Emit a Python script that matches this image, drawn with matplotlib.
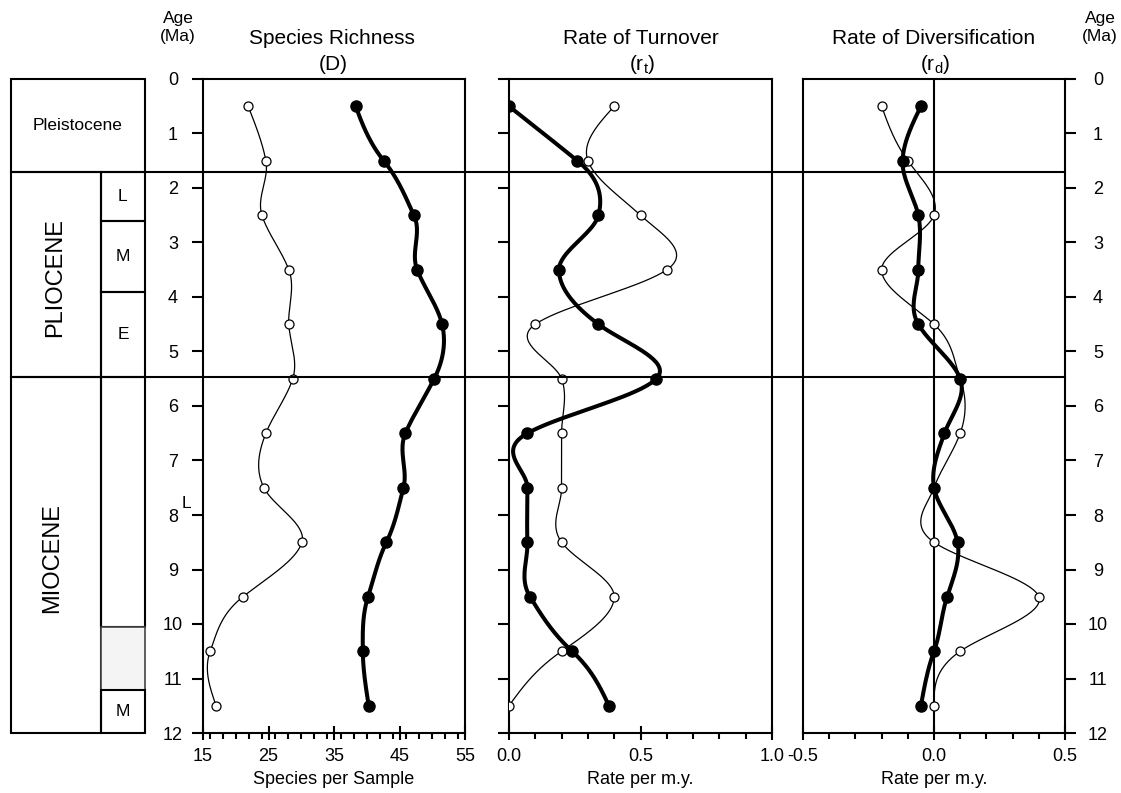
import numpy as np
import matplotlib
matplotlib.use('Agg')
import matplotlib.pyplot as plt
from matplotlib.patches import Rectangle
from matplotlib.lines import Line2D
from matplotlib.transforms import blended_transform_factory
from matplotlib.ticker import MultipleLocator

plt.rcParams['font.family'] = ['Liberation Sans', 'DejaVu Sans']
plt.rcParams['mathtext.fontset'] = 'custom'
plt.rcParams['mathtext.rm'] = 'Liberation Sans'
plt.rcParams['mathtext.it'] = 'Liberation Sans:italic'

# ---------------- data ----------------
ages = [0.5, 1.5, 2.5, 3.5, 4.5, 5.5, 6.5, 7.5, 8.5, 9.5, 10.5, 11.5]
richness_filled = [38.3, 42.6, 47.2, 47.7, 51.5, 50.3, 45.9, 45.6, 43.0, 40.2, 39.4, 40.3]
richness_open = [21.9, 24.6, 24.0, 28.1, 28.1, 28.7, 24.6, 24.3, 30.1, 21.1, 16.1, 17.0]
turnover_filled = [0.0, 0.26, 0.34, 0.19, 0.34, 0.56, 0.07, 0.07, 0.07, 0.08, 0.24, 0.38]
turnover_open = [0.40, 0.30, 0.50, 0.60, 0.10, 0.20, 0.20, 0.20, 0.20, 0.40, 0.20, 0.0]
divers_filled = [-0.05, -0.12, -0.06, -0.06, -0.06, 0.10, 0.04, 0.0, 0.09, 0.05, 0.0, -0.05]
divers_open = [-0.20, -0.10, 0.0, -0.20, 0.0, 0.10, 0.10, 0.0, 0.0, 0.40, 0.10, 0.0]

age_ticks = list(range(0, 13))
richness_ticks = [15, 25, 35, 45, 55]
turnover_ticks = [0.0, 0.5, 1.0]
turnover_labels = ['0.0', '0.5', '1.0']
divers_ticks = [-0.5, 0.0, 0.5]
divers_labels = ['-0.5', '0.0', '0.5']

titles = ['Species Richness', 'Rate of Turnover', 'Rate of Diversification']
subtitles = ['(D)', r'(r$_{\mathrm{t}}$)', r'(r$_{\mathrm{d}}$)']
xlabels = ['Species per Sample', 'Rate per m.y.', 'Rate per m.y.']

# stratigraphic column (Ma)
pleistocene_base = 1.7
pliocene_base = 5.47
plio_LM = 2.6
plio_ME = 3.9
mio_gray_top = 10.06
mio_gray_bot = 11.22

# ---------------- figure ----------------
W, H = 1121, 793
fig = plt.figure(figsize=(W / 100, H / 100), dpi=100)
TOP, BOT = 79, 733
FS_TICK = 13
FS_TITLE = 15


def box(l, r):
    return [l / W, 1 - BOT / H, (r - l) / W, (BOT - TOP) / H]


def smooth(y, x, k=0.75, n=40):
    y = np.asarray(y, float)
    x = np.asarray(x, float)
    m = np.zeros_like(x)
    m[1:-1] = k * (x[2:] - x[:-2])
    m[0] = (3 * (x[1] - x[0]) - m[1]) / 2
    m[-1] = (3 * (x[-1] - x[-2]) - m[-2]) / 2
    xs, ys = [], []
    t = np.linspace(0, 1, n)
    h00 = 2 * t**3 - 3 * t**2 + 1
    h10 = t**3 - 2 * t**2 + t
    h01 = -2 * t**3 + 3 * t**2
    h11 = t**3 - t**2
    for i in range(len(x) - 1):
        xs.append(h00 * x[i] + h10 * m[i] + h01 * x[i + 1] + h11 * m[i + 1])
        ys.append(y[i] + t * (y[i + 1] - y[i]))
    return np.concatenate(xs), np.concatenate(ys)


LW = 1.5
ax1 = fig.add_axes(box(203, 465))
ax2 = fig.add_axes(box(509, 772))
ax3 = fig.add_axes(box(803, 1065))
axes = [ax1, ax2, ax3]

series = [(richness_filled, richness_open), (turnover_filled, turnover_open),
          (divers_filled, divers_open)]
xlims = [(15, 55), (0, 1), (-0.5, 0.5)]
xticks = [richness_ticks, turnover_ticks, divers_ticks]
xticklabels = [[str(v) for v in richness_ticks], turnover_labels, divers_labels]
minors = [2, 0.1, 0.1]

for ax, (filled, opn), xl, xt, xtl, mn in zip(axes, series, xlims, xticks, xticklabels, minors):
    ax.set_xlim(*xl)
    ax.set_ylim(12, 0)
    for s in ax.spines.values():
        s.set_linewidth(LW)
    # open series
    sx, sy = smooth(ages, opn)
    ax.plot(sx, sy, color='black', lw=0.9, zorder=3, solid_capstyle='round')
    ax.plot(opn, ages, 'o', ms=6.5, mfc='white', mec='black', mew=0.9, zorder=4)
    # filled series
    sx, sy = smooth(ages, filled)
    ax.plot(sx, sy, color='black', lw=2.9, zorder=5, solid_capstyle='round')
    ax.plot(filled, ages, 'o', ms=8, mfc='black', mec='black', zorder=6)
    ax.set_xticks(xt)
    ax.set_xticklabels(xtl, fontsize=FS_TICK)
    ax.xaxis.set_minor_locator(MultipleLocator(mn))
    ax.tick_params(axis='x', which='major', direction='inout', length=10, width=LW, pad=6,
                   top=False, bottom=True)
    ax.tick_params(axis='x', which='minor', direction='out', length=4, width=LW,
                   top=False, bottom=True)
    ax.set_yticks(age_ticks)
    ax.tick_params(axis='y', which='major', direction='out', length=8, width=LW)

for ax, lab in zip(axes, xlabels):
    ax.set_xlabel(lab, fontsize=FS_TICK, labelpad=4)

# y tick labels
ax1.set_yticklabels([str(v) for v in age_ticks], fontsize=FS_TICK)
ax1.tick_params(axis='y', left=True, right=False, labelleft=True, pad=13.7)
plt.setp(ax1.get_yticklabels(), ha='center')
ax2.tick_params(axis='y', left=True, right=False, labelleft=False)
ax3.yaxis.tick_right()
ax3.set_yticklabels([str(v) for v in age_ticks], fontsize=FS_TICK)
ax3.tick_params(axis='y', left=False, right=True, labelright=True, pad=15.8)
plt.setp(ax3.get_yticklabels(), ha='center')
ax3.axvline(0, color='black', lw=LW, zorder=2)

# titles
centers = [332, 641, 934]
for c, t, st in zip(centers, titles, subtitles):
    fig.text(c / W, 1 - 39 / H, t, fontsize=FS_TITLE, ha='center', va='center')
    fig.text((c + 1) / W, 1 - 64 / H, st, fontsize=FS_TITLE, ha='center', va='center')
for xc in (178, 1100):
    fig.text(xc / W, 1 - 18 / H, 'Age', fontsize=12.5, ha='center', va='center')
    fig.text(xc / W, 1 - 36 / H, '(Ma)', fontsize=12.5, ha='center', va='center')

# stratigraphic column
axc = fig.add_axes(box(11, 145))
axc.set_xlim(0, 1)
axc.set_ylim(12, 0)
axc.axis('off')
div = 0.67
kw = dict(fill=False, ec='black', lw=LW, clip_on=False)
axc.add_patch(Rectangle((0, 0), 1, pleistocene_base, **kw))
axc.add_patch(Rectangle((0, pleistocene_base), div, pliocene_base - pleistocene_base, **kw))
axc.add_patch(Rectangle((div, pleistocene_base), 1 - div, plio_LM - pleistocene_base, **kw))
axc.add_patch(Rectangle((div, plio_LM), 1 - div, plio_ME - plio_LM, **kw))
axc.add_patch(Rectangle((div, plio_ME), 1 - div, pliocene_base - plio_ME, **kw))
axc.add_patch(Rectangle((0, pliocene_base), div, 12 - pliocene_base, **kw))
axc.add_patch(Rectangle((div, pliocene_base), 1 - div, mio_gray_top - pliocene_base, **kw))
axc.add_patch(Rectangle((div, mio_gray_top), 1 - div, mio_gray_bot - mio_gray_top,
                        fc='#f4f4f4', ec='#444444', lw=1.2, clip_on=False))
axc.add_patch(Rectangle((div, mio_gray_bot), 1 - div, 12 - mio_gray_bot, **kw))
axc.text(0.5, 0.85, 'Pleistocene', fontsize=12.5, ha='center', va='center')
axc.text(0.33, 3.64, 'PLIOCENE', fontsize=17, rotation=90, ha='center', va='center')
axc.text(0.31, 8.79, 'MIOCENE', fontsize=17, rotation=90, ha='center', va='center')
xm = div + (1 - div) / 2
axc.text(xm, (pleistocene_base + plio_LM) / 2, 'L', fontsize=12.5, ha='center', va='center')
axc.text(xm, (plio_LM + plio_ME) / 2, 'M', fontsize=12.5, ha='center', va='center')
axc.text(xm, (plio_ME + pliocene_base) / 2, 'E', fontsize=12.5, ha='center', va='center')
axc.text(xm, (mio_gray_bot + 12) / 2, 'M', fontsize=12.5, ha='center', va='center')
axc.text((186 - 11) / 134, 7.78, 'L', fontsize=12.5, ha='center', va='center', clip_on=False)

# epoch boundary lines across the panels
tr = blended_transform_factory(fig.transFigure, ax1.transData)
for b in (pleistocene_base, pliocene_base):
    fig.add_artist(Line2D([145 / W, 1065 / W], [b, b], transform=tr, color='black', lw=LW))

fig.savefig('out.png', dpi=100)
